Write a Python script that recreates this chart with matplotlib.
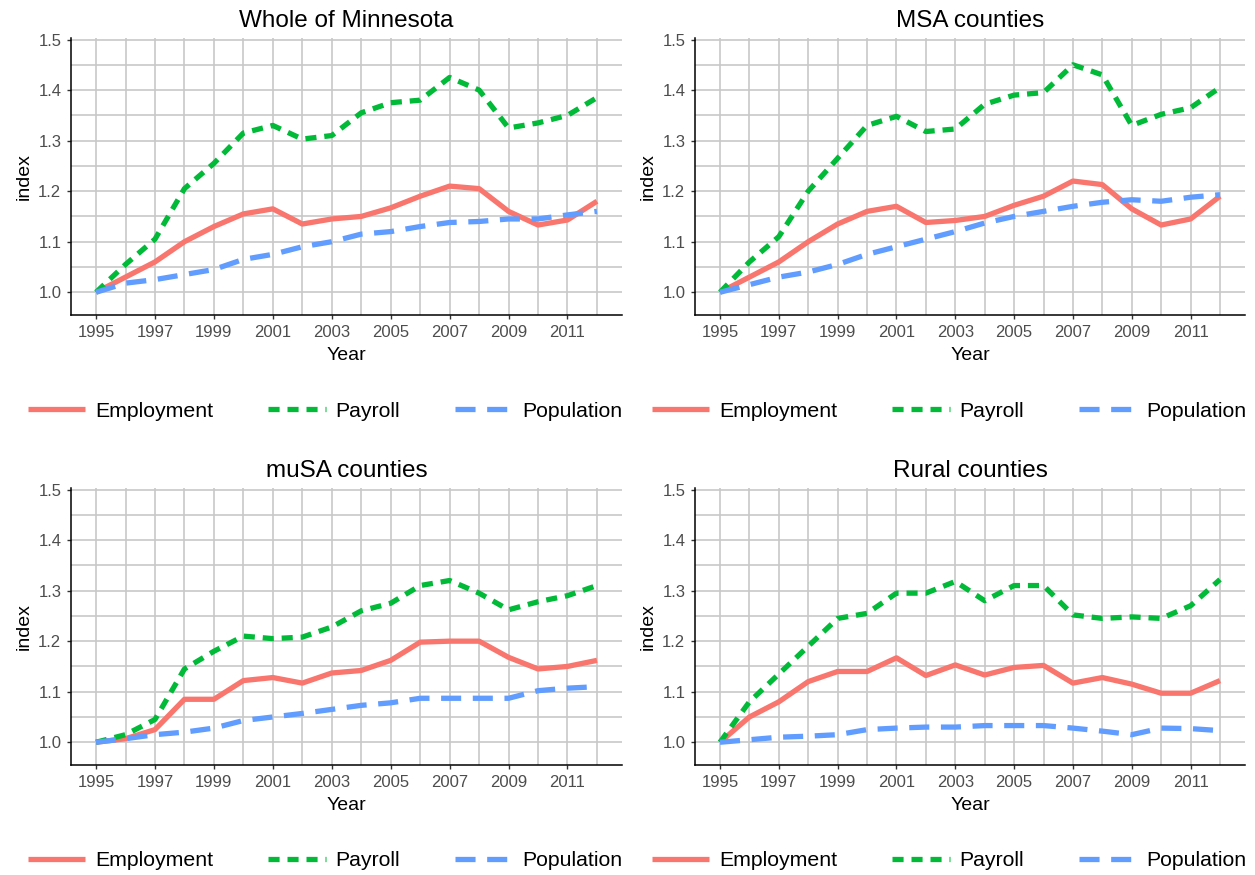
import matplotlib
matplotlib.use("Agg")
import matplotlib.pyplot as plt
from matplotlib.ticker import MultipleLocator, FormatStrFormatter

plt.rcParams['font.family'] = ['Liberation Sans', 'DejaVu Sans']

years = list(range(1995, 2013))
series_names = ["Employment", "Payroll", "Population"]
titles = ["Whole of Minnesota", "MSA counties", "muSA counties", "Rural counties"]

# Whole of Minnesota
mn_employment = [1.0, 1.03, 1.06, 1.10, 1.13, 1.155, 1.165, 1.135, 1.145, 1.15, 1.167, 1.19, 1.21, 1.205, 1.16, 1.133, 1.143, 1.18]
mn_payroll = [1.0, 1.055, 1.105, 1.205, 1.255, 1.315, 1.33, 1.303, 1.31, 1.355, 1.375, 1.38, 1.425, 1.40, 1.325, 1.335, 1.35, 1.385]
mn_population = [1.0, 1.018, 1.025, 1.035, 1.045, 1.065, 1.075, 1.09, 1.10, 1.115, 1.12, 1.13, 1.138, 1.14, 1.145, 1.145, 1.153, 1.16]

# MSA counties
msa_employment = [1.0, 1.03, 1.06, 1.10, 1.135, 1.16, 1.17, 1.138, 1.142, 1.15, 1.172, 1.19, 1.22, 1.213, 1.165, 1.133, 1.145, 1.19]
msa_payroll = [1.0, 1.06, 1.11, 1.20, 1.265, 1.33, 1.348, 1.318, 1.323, 1.372, 1.39, 1.395, 1.45, 1.43, 1.33, 1.352, 1.365, 1.405]
msa_population = [1.0, 1.015, 1.03, 1.04, 1.055, 1.075, 1.09, 1.105, 1.12, 1.137, 1.15, 1.16, 1.17, 1.178, 1.183, 1.18, 1.188, 1.193]

# muSA counties
musa_employment = [1.0, 1.007, 1.025, 1.085, 1.085, 1.122, 1.128, 1.117, 1.137, 1.142, 1.162, 1.198, 1.2, 1.2, 1.168, 1.145, 1.15, 1.162]
musa_payroll = [1.0, 1.015, 1.045, 1.145, 1.18, 1.21, 1.205, 1.208, 1.228, 1.26, 1.275, 1.31, 1.32, 1.295, 1.262, 1.278, 1.29, 1.31]
musa_population = [1.0, 1.007, 1.015, 1.02, 1.028, 1.043, 1.05, 1.057, 1.065, 1.073, 1.078, 1.087, 1.087, 1.087, 1.087, 1.102, 1.107, 1.11]

# Rural counties
rural_employment = [1.0, 1.05, 1.08, 1.12, 1.14, 1.14, 1.167, 1.132, 1.153, 1.133, 1.148, 1.152, 1.117, 1.128, 1.115, 1.097, 1.097, 1.122]
rural_payroll = [1.0, 1.08, 1.135, 1.19, 1.245, 1.255, 1.295, 1.295, 1.318, 1.28, 1.31, 1.31, 1.252, 1.245, 1.248, 1.245, 1.27, 1.322]
rural_population = [1.0, 1.005, 1.01, 1.012, 1.015, 1.025, 1.028, 1.03, 1.03, 1.033, 1.033, 1.033, 1.028, 1.022, 1.015, 1.028, 1.027, 1.023]

panels = [
    (mn_employment, mn_payroll, mn_population),
    (msa_employment, msa_payroll, msa_population),
    (musa_employment, musa_payroll, musa_population),
    (rural_employment, rural_payroll, rural_population),
]

colors = ["#F8766D", "#00BA38", "#619CFF"]
dashes = [None, (2.1, 1.5), (3.8, 2.2)]
LW = 3.8

fig = plt.figure(figsize=(12.55, 8.75), dpi=100)
W, H = 1255.0, 875.0
# axes pixel boxes: (left, right, top, bottom)
boxes = [(71, 622, 38, 315), (695, 1245, 38, 315), (71, 622, 488, 765), (695, 1245, 488, 765)]
legend_y = [411, 411, 861, 861]
legend_x = [325, 949, 325, 949]

for i, (box, data, title) in enumerate(zip(boxes, panels, titles)):
    l, r, t, b = box
    ax = fig.add_axes([l / W, 1 - b / H, (r - l) / W, (b - t) / H])
    for name, vals, c, d in zip(series_names, data, colors, dashes):
        line, = ax.plot(years, vals, color=c, lw=LW, label=name,
                        solid_capstyle='butt', dash_capstyle='butt')
        if d is not None:
            line.set_dashes(d)
    ax.set_xlim(1994.15, 2012.85)
    ax.set_ylim(0.955, 1.503)
    ax.set_xticks(list(range(1995, 2012, 2)))
    ax.xaxis.set_minor_locator(MultipleLocator(1))
    ax.yaxis.set_major_locator(MultipleLocator(0.1))
    ax.yaxis.set_minor_locator(MultipleLocator(0.05))
    ax.yaxis.set_major_formatter(FormatStrFormatter('%.1f'))
    ax.grid(True, which='major', color='#C8C8C8', lw=1.2)
    ax.grid(True, which='minor', color='#C8C8C8', lw=1.2)
    ax.set_axisbelow(True)
    for s in ['top', 'right']:
        ax.spines[s].set_visible(False)
    for s in ['left', 'bottom']:
        ax.spines[s].set_color('black')
        ax.spines[s].set_linewidth(1.1)
    ax.tick_params(which='major', length=3, width=1, color='#333333', labelsize=12,
                   labelcolor='#4D4D4D', pad=4)
    ax.tick_params(which='minor', length=0)
    ax.set_title(title, fontsize=17.5, pad=8)
    ax.set_xlabel("Year", fontsize=14, labelpad=5)
    ax.set_ylabel("index", fontsize=14, labelpad=4)
    ax.legend(loc='center', bbox_to_anchor=(legend_x[i] / W, 1 - legend_y[i] / H),
              bbox_transform=fig.transFigure,
              ncol=3, frameon=False, fontsize=15.3, handlelength=2.7, handletextpad=0.45,
              columnspacing=2.6, borderaxespad=0, borderpad=0)

fig.savefig("out.png", dpi=100)
